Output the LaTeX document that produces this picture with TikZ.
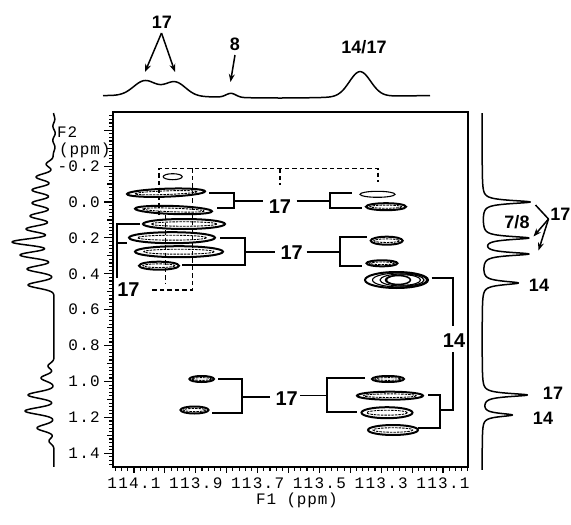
\documentclass[tikz,border=0pt]{standalone}
\usepackage{fontspec}
\setmainfont{Liberation Sans}
\newfontfamily\monosp{Liberation Mono}[LetterSpace=8]
\newfontfamily\monoti{Liberation Mono}[LetterSpace=5]
\usetikzlibrary{arrows.meta}
\tikzset{
 lblA/.style={font=\fontsize{20}{20}\selectfont\bfseries, inner sep=0pt},
 lblB/.style={font=\fontsize{18}{18}\selectfont\bfseries, inner sep=0pt},
 ax/.style={font=\monosp\fontsize{16}{16}\selectfont, inner sep=0pt},
 axt/.style={font=\monoti\fontsize{16}{16}\selectfont, inner sep=0pt},
 brk/.style={line width=1.8pt},
 dsh/.style={line width=1.5pt, dash pattern=on 4.5pt off 3pt},
 trace/.style={line width=1.5pt, line join=round},
 arr/.style={line width=1.5pt, -{Stealth[length=8pt,width=6pt]}},
 ring/.style={line width=2pt},
 inring/.style={line width=0.9pt, dash pattern=on 2.5pt off 1pt},
}
\newcommand\cnt[5]{%
 \draw[ring, rotate around={#5:(#1,#2)}] (#1,#2) ellipse [x radius=#3, y radius=#4];
 \draw[inring, rotate around={#5:(#1,#2)}] (#1,#2) ellipse [x radius=0.8*#3, y radius=0.45*#4];
}
\begin{document}
\begin{tikzpicture}[x=1pt,y=-1pt,
 declare function={
  gs(\a,\b,\c)=exp(-min(((\a-\b)/\c)^2,20));
  lz(\a,\b,\c)=1/(1+(min(abs(\a-\b),100)/\c)^2);
  tt(\x)=95.5+2.5*gs(\x,280,90)-15*gs(\x,145,16)-14*gs(\x,175,15)-4*gs(\x,231,7)-25*gs(\x,360,15);
  lt(\t)=54+1.2*sin(\t*25)*gs(\t,135,25)-8*gs(\t,164,4.5)-18*gs(\t,177,4.5)-22*gs(\t,190,4.5)-22*gs(\t,203,4.5)-24*gs(\t,216,4.5)-28*gs(\t,229,4.5)-42*gs(\t,242,4.5)-34*gs(\t,255,4.5)-27*gs(\t,269,4.5)-26*gs(\t,285,4.5)-6*gs(\t,366,4)-13*gs(\t,378,4.5)-26*gs(\t,395,4.5)-29*gs(\t,411,4.5)-17*gs(\t,428,4.5)-5*gs(\t,441,4);
  rt(\t)=482+48*lz(\t,202,2)+46*lz(\t,238,2)+46*lz(\t,254,2)+36*lz(\t,283,2.2)+45*lz(\t,395,2)+30*lz(\t,415,2);
 }]
\useasboundingbox (0,0) rectangle (571,525);
% frame
\draw[line width=2pt] (113,112) rectangle (468,467);
% left ticks
\foreach \k in {-24,...,73}{
 \pgfmathsetmacro\yy{202+\k*0.02*179.5}
 \pgfmathsetmacro\len{mod(\k,10)==0 ? 9 : (mod(\k,5)==0 ? 6.5 : 4.5)}
 \draw[line width=1.1pt] (113,\yy) -- ++(-\len,0);
}
% bottom ticks
\foreach \j in {-3,...,54}{
 \pgfmathsetmacro\xx{134+\j*6.18}
 \pgfmathsetmacro\len{mod(\j,5)==0 ? 6 : 3.5}
 \draw[line width=1.1pt] (\xx,467) -- ++(0,\len);
}
% axis labels
\foreach \v/\t in {-0.2/-0.2,0.0/0.0,0.2/0.2,0.4/0.4,0.6/0.6,0.8/0.8,1.0/1.0,1.2/1.2,1.4/1.4}{
 \pgfmathsetmacro\yy{202+\v*179.5}
 \node[ax, anchor=east] (yl\t) at (100,\yy) {\t};
}
\foreach \i/\t in {0/114.1,1/113.9,2/113.7,3/113.5,4/113.3,5/113.1}{
 \node[ax] (xl\i) at (134+\i*61.8,483) {\t};
}
\node[axt] (f1) at (297,500) {F1 (ppm)};
\node[axt, anchor=west] (f2) at (57,132) {F2};
\node[axt, anchor=west] (f2u) at (59,150) {(ppm)};
% projections
\draw[trace] plot[domain=103:430, samples=300] (\x,{tt(\x)});
\draw[trace] plot[domain=113:467, samples=600, variable=\t] ({lt(\t)},\t);
\draw[trace] plot[domain=113:470, samples=1400, variable=\t] ({rt(\t)},\t);
% top labels
\node[lblB] (t17) at (162,22) {17};
\node[lblB] (t8) at (235,44) {8};
\node[lblB] (t1417) at (364,47) {14/17};
\coordinate (p17a) at (145,72);
\coordinate (p17b) at (175,72);
\coordinate (p8) at (230.5,82);
\draw[arr] (161.5,33) -- (p17a);
\draw[arr] (161.5,33) -- (p17b);
\draw[arr] (235,55) -- (p8);
% right labels
\node[lblB] (r78) at (517,222) {7/8};
\node[lblB, anchor=east] (r17) at (570.5,214) {17};
\node[lblB] (r14) at (539,285) {14};
\node[lblB] (r17b) at (553,393.5) {17};
\node[lblB] (r14b) at (543,418.5) {14};
\coordinate (vx) at (548.5,219);
\draw[line width=1.5pt] (vx) -- (535.5,205);
\draw[arr] (vx) -- (533.5,236.5);
\draw[arr] (vx) -- (538.5,250.5);
% dashed box
\draw[dsh] (159,215) -- (159,168.3) -- (378,168.3) -- (378,182);
\draw[dsh] (280,168.3) -- (280,185);
\draw[dsh] (192.7,168.3) -- (192.7,290) -- (150,290);
\draw[dsh] (165.5,215) -- (165.5,284);
% contours upper left
\draw[line width=1.1pt] (172.7,176.7) ellipse [x radius=9.5, y radius=3];
\cnt{166}{192.7}{39}{4}{2}
\cnt{173.5}{210}{38.5}{4}{-2}
\cnt{184}{224}{41}{5}{0}
\cnt{172}{237.7}{43}{5.5}{0}
\cnt{179}{251.7}{44}{5.5}{0}
\cnt{159}{265.7}{20}{4}{0}
% contours right
\draw[line width=1.1pt] (377.5,194.3) ellipse [x radius=17.5, y radius=3];
\cnt{386}{206.7}{20}{3.5}{0}
\cnt{386.7}{240.7}{16}{4}{0}
\cnt{382}{263.3}{15.5}{3}{0}
\draw[ring] (396.5,280) ellipse [x radius=31.5, y radius=8];
\draw[line width=1.1pt] (399.5,280) ellipse [x radius=27, y radius=7];
\draw[line width=1.1pt] (402,280) ellipse [x radius=22, y radius=6];
\draw[line width=1.1pt] (403.5,280) ellipse [x radius=17, y radius=5.2];
\draw[line width=1.5pt] (398,280) ellipse [x radius=12.5, y radius=4.5];
\cnt{388}{379}{16}{3}{0}
\cnt{390}{395.7}{33}{4}{0}
\cnt{387}{412.7}{25.5}{5.5}{0}
\cnt{393}{430}{25}{5}{0}
% contours lower left
\cnt{201.7}{379}{12.3}{3}{0}
\cnt{194.5}{410}{14}{3.5}{0}
% labels in plot
\node[lblA] (a17) at (280,207) {17};
\node[lblA] (b17) at (291.7,252.5) {17};
\node[lblA] (c17) at (286.7,399) {17};
\node[lblA] (d17) at (128.5,290) {17};
\node[lblA] (e14) at (454,340.7) {14};
% brackets group A
\draw[brk] (209,193.3) -- (234,193.3) -- (234,208.3) -- (216.7,208.3);
\draw[brk] (234,201) -- (263,201);
\draw[brk] (296.7,201) -- (330,201);
\draw[brk] (351.7,193.3) -- (330,193.3) -- (330,208.3) -- (361.7,208.3);
% group B
\draw[brk] (220,237.7) -- (245,237.7) -- (245,265) -- (181.7,265);
\draw[brk] (245,251.7) -- (275,251.7);
\draw[brk] (306.7,251.7) -- (340,251.7);
\draw[brk] (366.7,237.3) -- (340,237.3) -- (340,266) -- (361.7,266);
% left bracket
\draw[brk] (140,224) -- (116.7,224) -- (116.7,278);
\draw[brk] (116.7,242.7) -- (127,242.7);
% group 14
\draw[brk] (431.7,278.3) -- (453.3,278.3) -- (453.3,326);
\draw[brk] (453.3,352) -- (453.3,410) -- (440,410);
\draw[brk] (428.3,395) -- (440,395) -- (440,428.3) -- (418.3,428.3);
% group C
\draw[brk] (365,377.7) -- (327.3,377.7) -- (327.3,411.7) -- (356.7,411.7);
\draw[line width=1.1pt] (300,395.7) -- (327.3,395.7);
\draw[brk] (241.7,396.7) -- (270,396.7);
\draw[brk] (218.3,379) -- (241.7,379) -- (241.7,413.3) -- (211.7,413.3);
\end{tikzpicture}
\end{document}
